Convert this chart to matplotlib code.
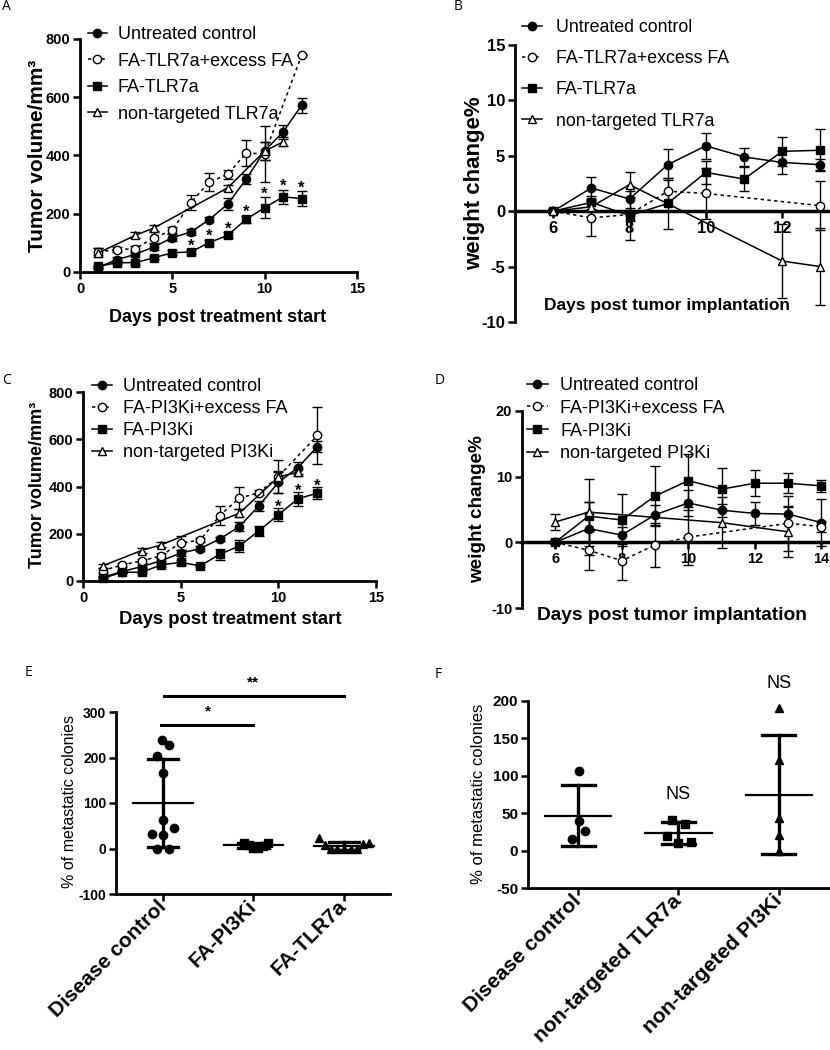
import matplotlib
matplotlib.use('Agg')
import matplotlib.pyplot as plt
from matplotlib.lines import Line2D
import numpy as np

plt.rcParams['font.family'] = ['Liberation Sans', 'DejaVu Sans']
plt.rcParams['axes.unicode_minus'] = False

# ---------------- data ----------------
# Panel A - tumour volume, TLR7a study
a_labels = ['Untreated control', 'FA-TLR7a+excess FA', 'FA-TLR7a', 'non-targeted TLR7a']
a_ctrl_days = [1, 2, 3, 4, 5, 6, 7, 8, 9, 10, 11, 12]
a_ctrl = [17, 42, 61, 86, 118, 137, 180, 233, 319, 416, 481, 572]
a_ctrl_sd = [5, 8, 8, 10, 12, 10, 10, 20, 18, 30, 25, 25]
a_xs_days = [1, 2, 3, 4, 5, 6, 7, 8, 9, 10, 12]
a_xs = [69, 77, 80, 118, 143, 238, 309, 335, 409, 405, 744]
a_xs_sd = [12, 10, 8, 18, 10, 25, 30, 15, 45, 95, 0]
a_tgt_days = [1, 2, 3, 4, 5, 6, 7, 8, 9, 10, 11, 12]
a_tgt = [19, 32, 32, 49, 66, 69, 101, 126, 181, 221, 258, 252]
a_tgt_sd = [5, 5, 5, 5, 8, 8, 10, 10, 12, 35, 25, 25]
a_nt_days = [1, 3, 4, 8, 10, 11]
a_nt = [66, 126, 151, 289, 415, 447]
a_nt_sd = [15, 10, 10, 10, 30, 15]
a_star_days = [6, 7, 8, 9, 10, 11, 12]

# Panel B - weight change, TLR7a study
b_ctrl_days = [6, 7, 8, 9, 10, 11, 12, 13]
b_ctrl = [0, 2.1, 1.1, 4.2, 5.9, 4.9, 4.4, 4.2]
b_ctrl_sd = [0.2, 1.0, 1.0, 1.4, 1.2, 0.8, 1.0, 0.5]
b_xs_days = [6, 7, 8, 9, 10, 13]
b_xs = [0, -0.6, -0.3, 1.8, 1.6, 0.5]
b_xs_sd = [0.2, 1.6, 0.6, 1.2, 2.3, 2.2]
b_tgt_days = [6, 7, 8, 9, 10, 11, 12, 13]
b_tgt = [0, 0.8, -0.4, 0.7, 3.5, 2.9, 5.4, 5.5]
b_tgt_sd = [0.2, 0.6, 2.2, 2.3, 1.0, 1.1, 1.3, 1.9]
b_nt_days = [6, 7, 8, 12, 13]
b_nt = [0, 0.4, 2.4, -4.5, -5.0]
b_nt_sd = [0.2, 0.5, 1.1, 3.3, 3.5]

# Panel C - tumour volume, PI3Ki study
c_labels = ['Untreated control', 'FA-PI3Ki+excess FA', 'FA-PI3Ki', 'non-targeted PI3Ki']
c_ctrl_days = [1, 2, 3, 4, 5, 6, 7, 8, 9, 10, 11, 12]
c_ctrl = [15, 40, 61, 86, 118, 137, 178, 230, 318, 417, 480, 569]
c_ctrl_sd = [5, 8, 8, 10, 12, 10, 10, 20, 20, 45, 25, 25]
c_xs_days = [1, 2, 3, 4, 5, 6, 7, 8, 9, 10, 12]
c_xs = [44, 68, 85, 107, 162, 172, 277, 350, 374, 442, 616]
c_xs_sd = [10, 8, 8, 10, 30, 8, 40, 47, 10, 70, 122]
c_tgt_days = [1, 2, 3, 4, 5, 6, 7, 8, 9, 10, 11, 12]
c_tgt = [11, 37, 37, 68, 79, 64, 113, 148, 212, 280, 348, 372]
c_tgt_sd = [5, 5, 5, 8, 10, 5, 22, 27, 20, 28, 30, 25]
c_nt_days = [1, 3, 4, 8, 10, 11]
c_nt = [64, 129, 153, 287, 440, 461]
c_nt_sd = [10, 10, 10, 18, 25, 15]
c_star_days = [10, 11, 12]

# Panel D - weight change, PI3Ki study
d_ctrl_days = [6, 7, 8, 9, 10, 11, 12, 13, 14]
d_ctrl = [0, 2.1, 1.1, 4.2, 6.0, 4.9, 4.4, 4.3, 3.0]
d_ctrl_sd = [0.3, 4.1, 1.3, 1.5, 2.0, 1.0, 1.8, 1.3, 3.6]
d_xs_days = [6, 7, 8, 9, 10, 13, 14]
d_xs = [0, -1.2, -2.8, -0.4, 0.8, 2.9, 2.4]
d_xs_sd = [0.3, 3.0, 2.9, 3.4, 4.2, 4.2, 0.8]
d_tgt_days = [6, 7, 8, 9, 10, 11, 12, 13, 14]
d_tgt = [0, 4.0, 3.4, 7.05, 9.4, 8.1, 9.0, 9.0, 8.6]
d_tgt_sd = [0.3, 2.2, 4.0, 4.6, 4.0, 3.2, 2.0, 1.5, 0.9]
d_nt_days = [6, 7, 11, 13]
d_nt = [3.1, 4.6, 3.0, 1.6]
d_nt_sd = [1.2, 5.1, 3.9, 3.8]

# Panel E - metastatic colonies, targeted drugs
e_cats = ['Disease control', 'FA-PI3Ki', 'FA-TLR7a']
e_ctrl = [239, 227, 204, 166, 62, 32, 45, 30, -1, -1]
e_ctrl_dx = [-0.01, 0.063, -0.066, 0, 0, -0.12, 0.118, 0, -0.063, 0.063]
e_pi3k = [12, 8, 1, 1, 5, 13]
e_pi3k_dx = [-0.10, -0.044, 0, 0.048, 0.103, 0.16]
e_tlr = [23, 8, 0, -1, -1, -1, -1, 9, 12]
e_tlr_dx = [-0.276, -0.214, -0.147, -0.074, 0, 0.074, 0.147, 0.21, 0.276]
e_sig_pairs = [(0, 1), (0, 2)]
e_sig_text = ['*', '**']
e_sig_y = [271, 335]

# Panel F - metastatic colonies, non-targeted drugs
f_cats = ['Disease control', 'non-targeted TLR7a', 'non-targeted PI3Ki']
f_ctrl = [106, 40, 26, 15]
f_ctrl_dx = [0.005, 0.005, 0.066, -0.06]
f_tlr = [41, 36, 19, 10, 12]
f_tlr_dx = [-0.06, 0.066, -0.116, 0, 0.126]
f_pi3k = [190, 121, 43, 21, -1]
f_pi3k_dx = [0, 0, 0, 0, 0]
f_ns_cats = [1, 2]

# ---------------- figure ----------------
W, H = 830, 1050
fig = plt.figure(figsize=(W / 100, H / 100), dpi=100)


def add_ax(l, t, r, b):
    return fig.add_axes([l / W, 1 - b / H, (r - l) / W, (b - t) / H])


def ftext(x, y, s, **kw):
    fig.text(x / W, 1 - y / H, s, **kw)


MS = 6
STYLES = [
    dict(marker='o', mfc='black', ls='-'),
    dict(marker='o', mfc='white', ls=(0, (2.2, 2.2))),
    dict(marker='s', mfc='black', ls='-'),
    dict(marker='^', mfc='white', ls='-'),
]


def draw_series(ax, x, y, e, st):
    ax.errorbar(x, y, yerr=e, marker=st['marker'], ls=st['ls'], color='black',
                mfc=st['mfc'], mec='black', mew=1.0, ms=MS, lw=1.1,
                elinewidth=1.0, capsize=3.5, capthick=1.0, clip_on=False, zorder=3)


def style_axes(ax, tsize):
    for s in ['top', 'right']:
        ax.spines[s].set_visible(False)
    for s in ['left', 'bottom']:
        ax.spines[s].set_linewidth(2.0)
    ax.tick_params(direction='out', length=5, width=1.8, labelsize=tsize, pad=2)
    for lab in ax.get_xticklabels() + ax.get_yticklabels():
        lab.set_fontweight('bold')


def legend(ax, labels, x, y, fs, ls_sp, hl, htp):
    handles = [Line2D([], [], color='black', marker=st['marker'], mfc=st['mfc'],
                      mec='black', ms=MS, lw=1.1, ls=st['ls']) for st in STYLES]
    ax.legend(handles, labels, loc='upper left', bbox_to_anchor=(x / W, 1 - y / H),
              bbox_transform=fig.transFigure, frameon=False, fontsize=fs,
              labelspacing=ls_sp, handlelength=hl, handletextpad=htp, borderpad=0,
              borderaxespad=0)


def stars(ax, days, sel, vals, sds, dy):
    for d in sel:
        i = days.index(d)
        ax.annotate('*', xy=(d, vals[i] + sds[i]), xytext=(0, dy), textcoords='offset points',
                    ha='center', va='center', fontsize=12, fontweight='bold')


# ---- Panel A ----
axA = add_ax(80, 39, 357, 272)
draw_series(axA, a_ctrl_days, a_ctrl, a_ctrl_sd, STYLES[0])
draw_series(axA, a_xs_days, a_xs, a_xs_sd, STYLES[1])
draw_series(axA, a_tgt_days, a_tgt, a_tgt_sd, STYLES[2])
draw_series(axA, a_nt_days, a_nt, a_nt_sd, STYLES[3])
axA.set_xlim(0, 15)
axA.set_ylim(0, 800)
axA.set_xticks([0, 5, 10, 15])
axA.set_yticks([0, 200, 400, 600, 800])
style_axes(axA, 10.5)
stars(axA, a_tgt_days, a_star_days, a_tgt, a_tgt_sd, 2.5)
legend(axA, a_labels, 88, 26, 13, 0.53, 1.05, 0.6)
ftext(38, 156, 'Tumor volume/mm³', rotation=90, ha='center', va='center', fontsize=15, fontweight='bold')
ftext(218, 317, 'Days post treatment start', ha='center', va='center', fontsize=13, fontweight='bold')

# ---- Panel B ----
axB = add_ax(515, 45, 828, 322)
draw_series(axB, b_ctrl_days, b_ctrl, b_ctrl_sd, STYLES[0])
draw_series(axB, b_xs_days, b_xs, b_xs_sd, STYLES[1])
draw_series(axB, b_tgt_days, b_tgt, b_tgt_sd, STYLES[2])
draw_series(axB, b_nt_days, b_nt, b_nt_sd, STYLES[3])
axB.set_xlim(5, 13.2)
axB.set_ylim(-10, 15)
axB.set_xticks([6, 8, 10, 12])
axB.set_yticks([-10, -5, 0, 5, 10, 15])
axB.spines['bottom'].set_position(('data', 0))
style_axes(axB, 12)
axB.spines['bottom'].set_linewidth(2.5)
legend(axB, a_labels, 522, 19, 12.8, 0.8, 1.15, 0.75)
ftext(475, 183, 'weight change%', rotation=90, ha='center', va='center', fontsize=16, fontweight='bold')
ftext(667, 305, 'Days post tumor implantation', ha='center', va='center', fontsize=12.5, fontweight='bold')

# ---- Panel C ----
axC = add_ax(83, 392, 376, 581)
draw_series(axC, c_ctrl_days, c_ctrl, c_ctrl_sd, STYLES[0])
draw_series(axC, c_xs_days, c_xs, c_xs_sd, STYLES[1])
draw_series(axC, c_tgt_days, c_tgt, c_tgt_sd, STYLES[2])
draw_series(axC, c_nt_days, c_nt, c_nt_sd, STYLES[3])
axC.set_xlim(0, 15)
axC.set_ylim(0, 800)
axC.set_xticks([0, 5, 10, 15])
axC.set_yticks([0, 200, 400, 600, 800])
style_axes(axC, 10.5)
stars(axC, c_tgt_days, c_star_days, c_tgt, c_tgt_sd, 0.5)
legend(axC, c_labels, 92, 378, 13, 0.28, 1.1, 0.6)
ftext(37, 485, 'Tumor volume/mm³', rotation=90, ha='center', va='center', fontsize=13, fontweight='bold')
ftext(230, 620, 'Days post treatment start', ha='center', va='center', fontsize=13.3, fontweight='bold')

# ---- Panel D ----
axD = add_ax(522, 411, 828, 608)
draw_series(axD, d_ctrl_days, d_ctrl, d_ctrl_sd, STYLES[0])
draw_series(axD, d_xs_days, d_xs, d_xs_sd, STYLES[1])
draw_series(axD, d_tgt_days, d_tgt, d_tgt_sd, STYLES[2])
draw_series(axD, d_nt_days, d_nt, d_nt_sd, STYLES[3])
axD.set_xlim(5, 14.2)
axD.set_ylim(-10, 20)
axD.set_xticks([6, 8, 10, 12, 14])
axD.set_yticks([-10, 0, 10, 20])
axD.spines['bottom'].set_position(('data', 0))
style_axes(axD, 10.5)
axD.spines['bottom'].set_linewidth(2.5)
legend(axD, c_labels, 527, 377, 13, 0.32, 1.15, 0.7)
ftext(478, 509, 'weight change%', rotation=90, ha='center', va='center', fontsize=13.6, fontweight='bold')
ftext(672, 615, 'Days post tumor implantation', ha='center', va='center', fontsize=13.8, fontweight='bold')


# ---- scatter panels ----
def scatter_panel(ax, groups, offsets, markers, mean_hw, cap_hw):
    for i, (vals, dx, mk) in enumerate(zip(groups, offsets, markers)):
        v = np.array(vals, dtype=float)
        ax.plot(i + np.array(dx), v, ls='none', marker=mk, color='black', ms=6, clip_on=False, zorder=3)
        m = v.mean()
        sd = v.std(ddof=1)
        ax.plot([i - mean_hw, i + mean_hw], [m, m], color='black', lw=1.6, zorder=4)
        ax.plot([i, i], [m - sd, m + sd], color='black', lw=2.4, zorder=4)
        for yy in (m - sd, m + sd):
            ax.plot([i - cap_hw, i + cap_hw], [yy, yy], color='black', lw=2.4, zorder=4)


def rot_labels(ax, fs):
    for lab in ax.get_xticklabels():
        lab.set_fontsize(fs)
        lab.set_rotation(45)
        lab.set_ha('right')
        lab.set_va('center')
        lab.set_rotation_mode('anchor')


# ---- Panel E ----
axE = add_ax(116, 712, 390, 894)
scatter_panel(axE, [e_ctrl, e_pi3k, e_tlr], [e_ctrl_dx, e_pi3k_dx, e_tlr_dx], ['o', 's', '^'], 0.33, 0.17)
axE.set_xlim(-0.52, 2.51)
axE.set_ylim(-100, 300)
axE.set_yticks([-100, 0, 100, 200, 300])
axE.set_xticks(range(len(e_cats)))
axE.set_xticklabels(e_cats)
style_axes(axE, 10)
rot_labels(axE, 15)
for (i0, i1), txt, yy in zip(e_sig_pairs, e_sig_text, e_sig_y):
    axE.plot([i0 - 0.02 + (0.03 if i1 == 2 else 0), i1], [yy, yy], color='black', lw=2.2, clip_on=False)
    axE.text((i0 + i1) / 2, yy + 15, txt, ha='center', va='bottom', fontsize=11, fontweight='bold')
ftext(70, 802, '% of metastatic colonies', rotation=90, ha='center', va='center', fontsize=11.5)

# ---- Panel F ----
axF = add_ax(528, 701, 830, 888)
scatter_panel(axF, [f_ctrl, f_tlr, f_pi3k], [f_ctrl_dx, f_tlr_dx, f_pi3k_dx], ['o', 's', '^'], 0.33, 0.166)
axF.set_xlim(-0.5, 2.51)
axF.set_ylim(-50, 200)
axF.set_yticks([-50, 0, 50, 100, 150, 200])
axF.set_xticks(range(len(f_cats)))
axF.set_xticklabels(f_cats)
style_axes(axF, 11)
rot_labels(axF, 15.2)
f_groups = [f_ctrl, f_tlr, f_pi3k]
for i in f_ns_cats:
    axF.text(i, max(f_groups[i]) + 22, 'NS', ha='center', va='bottom', fontsize=13, clip_on=False)
ftext(478, 794, '% of metastatic colonies', rotation=90, ha='center', va='center', fontsize=12)

# ---- panel letters ----
for letter, (x, y) in zip('ABCDEF', [(6, 7), (458, 7), (6, 380), (440, 380), (28, 673), (438, 674)]):
    ftext(x, y, letter, ha='center', va='center', fontsize=10, family=['Open Sans', 'DejaVu Sans'])

fig.savefig('out.png', dpi=100)
